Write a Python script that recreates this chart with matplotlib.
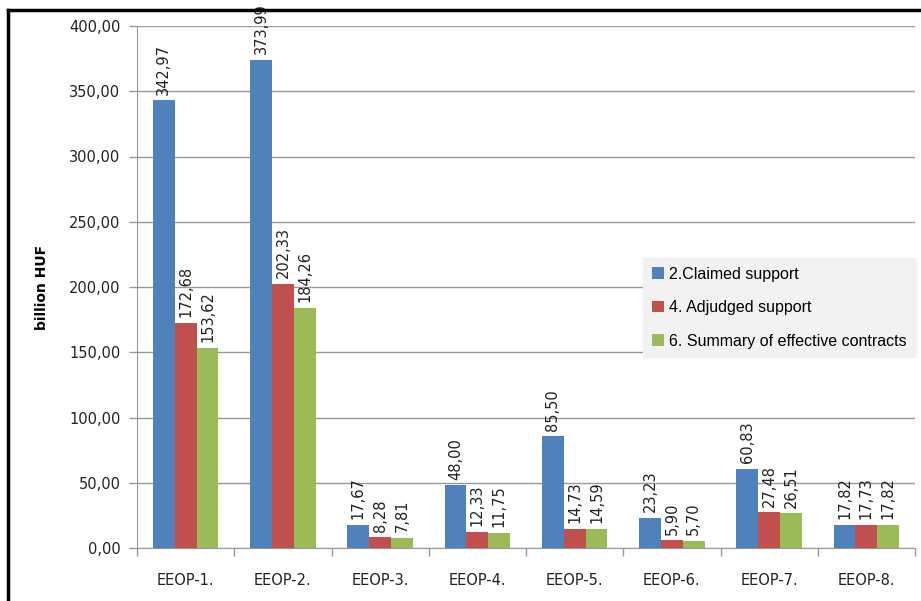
import numpy as np
import matplotlib
matplotlib.use("Agg")
import matplotlib.pyplot as plt
from matplotlib.lines import Line2D
from matplotlib.ticker import FixedLocator, NullFormatter

# EEOP programme support, billion HUF
programmes = ["EEOP-1.", "EEOP-2.", "EEOP-3.", "EEOP-4.",
              "EEOP-5.", "EEOP-6.", "EEOP-7.", "EEOP-8."]
claimed = [342.97, 373.99, 17.67, 48.00, 85.50, 23.23, 60.83, 17.82]
adjudged = [172.68, 202.33, 8.28, 12.33, 14.73, 5.90, 27.48, 17.73]
contracts = [153.62, 184.26, 7.81, 11.75, 14.59, 5.70, 26.51, 17.82]

series = [
    ("2.Claimed support", claimed, "#4F81BD"),
    ("4. Adjudged support", adjudged, "#C0504D"),
    ("6. Summary of effective contracts", contracts, "#9BBB59"),
]

def hu(v):
    return f"{v:.2f}".replace(".", ",")

W, H = 921, 601
fig = plt.figure(figsize=(W / 100, H / 100), dpi=100)
ax = fig.add_axes([137 / W, 1 - 548 / H, 778 / W, 522 / H])

x = np.arange(len(programmes))
bw = 0.225
for i, (name, vals, col) in enumerate(series):
    pos = x + (i - 1) * bw
    ax.bar(pos, vals, bw, color=col, label=name, zorder=3)
    for p, v in zip(pos, vals):
        ax.annotate(hu(v), (p, v), xytext=(0, 4), textcoords="offset points",
                    rotation=90, ha="center", va="bottom", fontsize=10.5,
                    color="#222222", zorder=4)

ax.set_xlim(-0.5, len(programmes) - 0.5)
ax.set_ylim(0, 400)
ax.set_yticks(np.arange(0, 401, 50))
ax.set_yticklabels([hu(v) for v in np.arange(0, 401, 50)])
ax.set_xticks(x)
ax.set_xticklabels(programmes)
ax.xaxis.set_minor_locator(FixedLocator(np.arange(-0.5, len(programmes), 1)))
ax.xaxis.set_minor_formatter(NullFormatter())
ax.tick_params(axis="x", which="major", length=0, pad=18, labelsize=10.5,
               labelcolor="#222222")
ax.tick_params(axis="x", which="minor", length=6, color="#999999", width=1)
ax.tick_params(axis="y", length=6, color="#999999", width=1, pad=6,
               labelsize=10.5, labelcolor="#222222")

ax.grid(axis="y", color="#999999", linewidth=1, zorder=0)
for s in ["top", "right"]:
    ax.spines[s].set_visible(False)
for s in ["left", "bottom"]:
    ax.spines[s].set_color("#999999")

ax.set_ylabel("billion HUF", fontsize=10, fontweight="bold", labelpad=14)

leg = ax.legend(loc="upper left", bbox_to_anchor=(643 / W, 1 - 258 / H),
                bbox_transform=fig.transFigure, frameon=True, fancybox=False,
                facecolor="#F2F2F2", edgecolor="#F2F2F2", framealpha=1,
                prop={"family": "Liberation Sans", "size": 11.5},
                handlelength=0.75, handleheight=0.75, handletextpad=0.35,
                labelspacing=1.15, borderpad=0.55, borderaxespad=0)
leg.set_zorder(5)

# frame lines along the top and left edges
fig.add_artist(Line2D([8 / W, 1], [1 - 10 / H, 1 - 10 / H], color="black",
                      linewidth=2.5, transform=fig.transFigure))
fig.add_artist(Line2D([8 / W, 8 / W], [0, 1 - 10 / H], color="black",
                      linewidth=2.5, transform=fig.transFigure))

fig.savefig("out.png", dpi=100)
